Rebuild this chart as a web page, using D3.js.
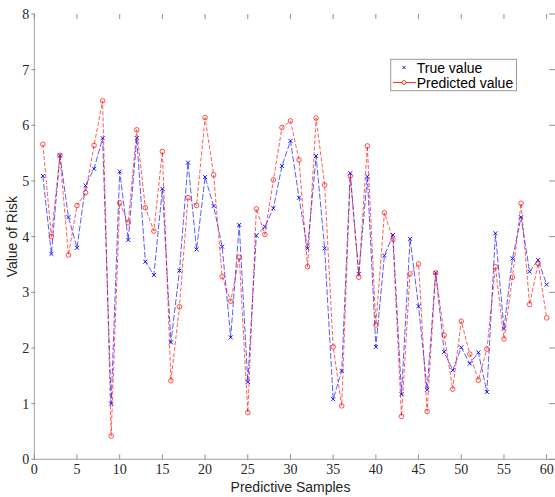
<!DOCTYPE html>
<html>
<head>
<meta charset="utf-8">
<script src="https://cdn.jsdelivr.net/npm/d3@7"></script>
<style>
  body { margin: 0; background: #fff; }
</style>
</head>
<body>
<div id="chart"></div>
<script>
// sample index 1..60
var samples = d3.range(1, 61);

var trueValue = [
  5.09, 3.69, 5.46, 4.35, 3.80, 4.92, 5.22, 5.77, 1.00, 5.17,
  3.94, 5.77, 3.55, 3.31, 4.86, 2.10, 3.39, 5.33, 3.77, 5.07,
  4.55, 3.82, 2.19, 4.21, 1.39, 4.02, 4.18, 4.51, 5.27, 5.72,
  4.70, 3.79, 5.45, 3.79, 1.08, 1.59, 5.14, 3.33, 5.08, 2.02,
  3.66, 4.03, 1.17, 3.96, 2.75, 1.25, 3.35, 1.93, 1.60, 2.01,
  1.72, 1.92, 1.21, 4.06, 2.35, 3.61, 4.35, 3.37, 3.58, 3.14
];

var predictedValue = [
  5.66, 4.00, 5.46, 3.67, 4.56, 4.79, 5.64, 6.44, 0.42, 4.61,
  4.25, 5.92, 4.52, 4.10, 5.53, 1.41, 2.74, 4.70, 4.56, 6.14,
  5.11, 3.28, 2.84, 3.63, 0.84, 4.50, 4.04, 5.02, 5.96, 6.08,
  5.38, 3.46, 6.13, 4.93, 2.02, 0.96, 5.09, 3.27, 5.63, 2.41,
  4.43, 3.95, 0.77, 3.33, 3.51, 0.86, 3.35, 2.23, 1.26, 2.48,
  1.89, 1.42, 1.98, 3.46, 2.16, 3.27, 4.60, 2.78, 3.52, 2.54
];

var xTicks = d3.range(0, 61, 5);
var yTicks = d3.range(0, 9, 1);
var seriesNames = ["True value", "Predicted value"];

var width = 555, height = 497;
var pLeft = 34.3, pRight = 555.2, pTop = 14, pBottom = 459.3;

var svg = d3.select("#chart")
  .append("svg")
  .attr("width", width)
  .attr("height", height);

var x = d3.scaleLinear().domain([0, 61]).range([pLeft, pRight]);
var y = d3.scaleLinear().domain([0, 8]).range([pBottom, pTop]);

var tickFont = "'Liberation Serif', 'Times New Roman', serif";
var sansFont = "'Liberation Sans', Arial, Helvetica, sans-serif";

// axes lines (left + bottom visible)
svg.append("line")
  .attr("x1", pLeft).attr("x2", pLeft)
  .attr("y1", pTop).attr("y2", pBottom)
  .attr("stroke", "#a0a0a0").attr("stroke-width", 1);
svg.append("line")
  .attr("x1", pLeft).attr("x2", pRight)
  .attr("y1", pBottom).attr("y2", pBottom)
  .attr("stroke", "#a0a0a0").attr("stroke-width", 1);

// x ticks bottom and top (inward)
var xt = svg.append("g");
xt.selectAll("line.b").data(xTicks).enter().append("line")
  .attr("class", "b")
  .attr("x1", function (d) { return x(d); })
  .attr("x2", function (d) { return x(d); })
  .attr("y1", pBottom).attr("y2", pBottom - 5)
  .attr("stroke", "#909090");
xt.selectAll("line.t").data(xTicks).enter().append("line")
  .attr("class", "t")
  .attr("x1", function (d) { return x(d); })
  .attr("x2", function (d) { return x(d); })
  .attr("y1", pTop).attr("y2", pTop + 5)
  .attr("stroke", "#909090");
xt.selectAll("text").data(xTicks).enter().append("text")
  .attr("x", function (d) { return x(d); })
  .attr("y", pBottom + 15)
  .attr("text-anchor", "middle")
  .attr("font-family", tickFont)
  .attr("font-size", "14px")
  .attr("fill", "#262626")
  .text(function (d) { return d; });

// y ticks left and right
var yt = svg.append("g");
yt.selectAll("line.l").data(yTicks).enter().append("line")
  .attr("class", "l")
  .attr("x1", pLeft - 3).attr("x2", pLeft + 1)
  .attr("y1", function (d) { return y(d); })
  .attr("y2", function (d) { return y(d); })
  .attr("stroke", "#909090");
yt.selectAll("line.r").data(yTicks).enter().append("line")
  .attr("class", "r")
  .attr("x1", pRight - 6).attr("x2", pRight)
  .attr("y1", function (d) { return y(d); })
  .attr("y2", function (d) { return y(d); })
  .attr("stroke", "#909090");
yt.selectAll("text").data(yTicks).enter().append("text")
  .attr("x", pLeft - 5)
  .attr("y", function (d) { return y(d); })
  .attr("dy", "0.35em")
  .attr("text-anchor", "end")
  .attr("font-family", tickFont)
  .attr("font-size", "14px")
  .attr("fill", "#262626")
  .text(function (d) { return d; });

// axis titles
svg.append("text")
  .attr("x", (pLeft + 546.7) / 2)
  .attr("y", 492)
  .attr("text-anchor", "middle")
  .attr("font-family", sansFont)
  .attr("font-size", "14px")
  .attr("fill", "#262626")
  .text("Predictive Samples");
svg.append("text")
  .attr("transform", "translate(17," + ((pTop + pBottom) / 2) + ") rotate(-90)")
  .attr("text-anchor", "middle")
  .attr("font-family", sansFont)
  .attr("font-size", "14px")
  .attr("fill", "#262626")
  .text("Value of Risk");

var line = d3.line()
  .x(function (d, i) { return x(samples[i]); })
  .y(function (d) { return y(d); });

// true value: blue dashed line with x markers
svg.append("path")
  .attr("d", line(trueValue))
  .attr("fill", "none")
  .attr("stroke", "#0000ff")
  .attr("stroke-opacity", 0.8)
  .attr("stroke-width", 0.8)
  .attr("stroke-dasharray", "6,2");

function drawCross(g, cx, cy, s, color) {
  g.append("path")
    .attr("d", "M" + (cx - s) + "," + (cy - s) + "L" + (cx + s) + "," + (cy + s) +
               "M" + (cx - s) + "," + (cy + s) + "L" + (cx + s) + "," + (cy - s))
    .attr("stroke", color)
    .attr("stroke-width", 0.9);
}

var blueMarks = svg.append("g");
trueValue.forEach(function (d, i) {
  drawCross(blueMarks, x(samples[i]), y(d), 2, "#0000ff");
});

// predicted value: red dashed line with circles
svg.append("path")
  .attr("d", line(predictedValue))
  .attr("fill", "none")
  .attr("stroke", "#ff0000")
  .attr("stroke-opacity", 0.8)
  .attr("stroke-width", 0.8)
  .attr("stroke-dasharray", "4,2");

svg.append("g").selectAll("circle")
  .data(predictedValue)
  .enter()
  .append("circle")
  .attr("cx", function (d, i) { return x(samples[i]); })
  .attr("cy", function (d) { return y(d); })
  .attr("r", 2.3)
  .attr("fill", "none")
  .attr("stroke", "#ff0000")
  .attr("stroke-opacity", 0.85)
  .attr("stroke-width", 0.8);

// legend
var lg = svg.append("g");
lg.append("rect")
  .attr("x", 390.7).attr("y", 59.3)
  .attr("width", 125.8).attr("height", 31.4)
  .attr("fill", "#fff")
  .attr("stroke", "#9a9a9a")
  .attr("stroke-width", 1);
drawCross(lg, 404, 67.5, 1.6, "#0000ff");
lg.append("line")
  .attr("x1", 393).attr("x2", 416)
  .attr("y1", 82.5).attr("y2", 82.5)
  .attr("stroke", "#ff0000").attr("stroke-width", 0.8);
lg.append("circle")
  .attr("cx", 404).attr("cy", 82.5).attr("r", 2)
  .attr("fill", "#fff").attr("stroke", "#ff0000").attr("stroke-width", 0.8);
lg.selectAll("text")
  .data(seriesNames)
  .enter()
  .append("text")
  .attr("x", 416.7)
  .attr("y", function (d, i) { return 68 + i * 14.6; })
  .attr("dy", "0.35em")
  .attr("font-family", sansFont)
  .attr("font-size", "14px")
  .attr("fill", "#000")
  .text(function (d) { return d; });
</script>
</body>
</html>
